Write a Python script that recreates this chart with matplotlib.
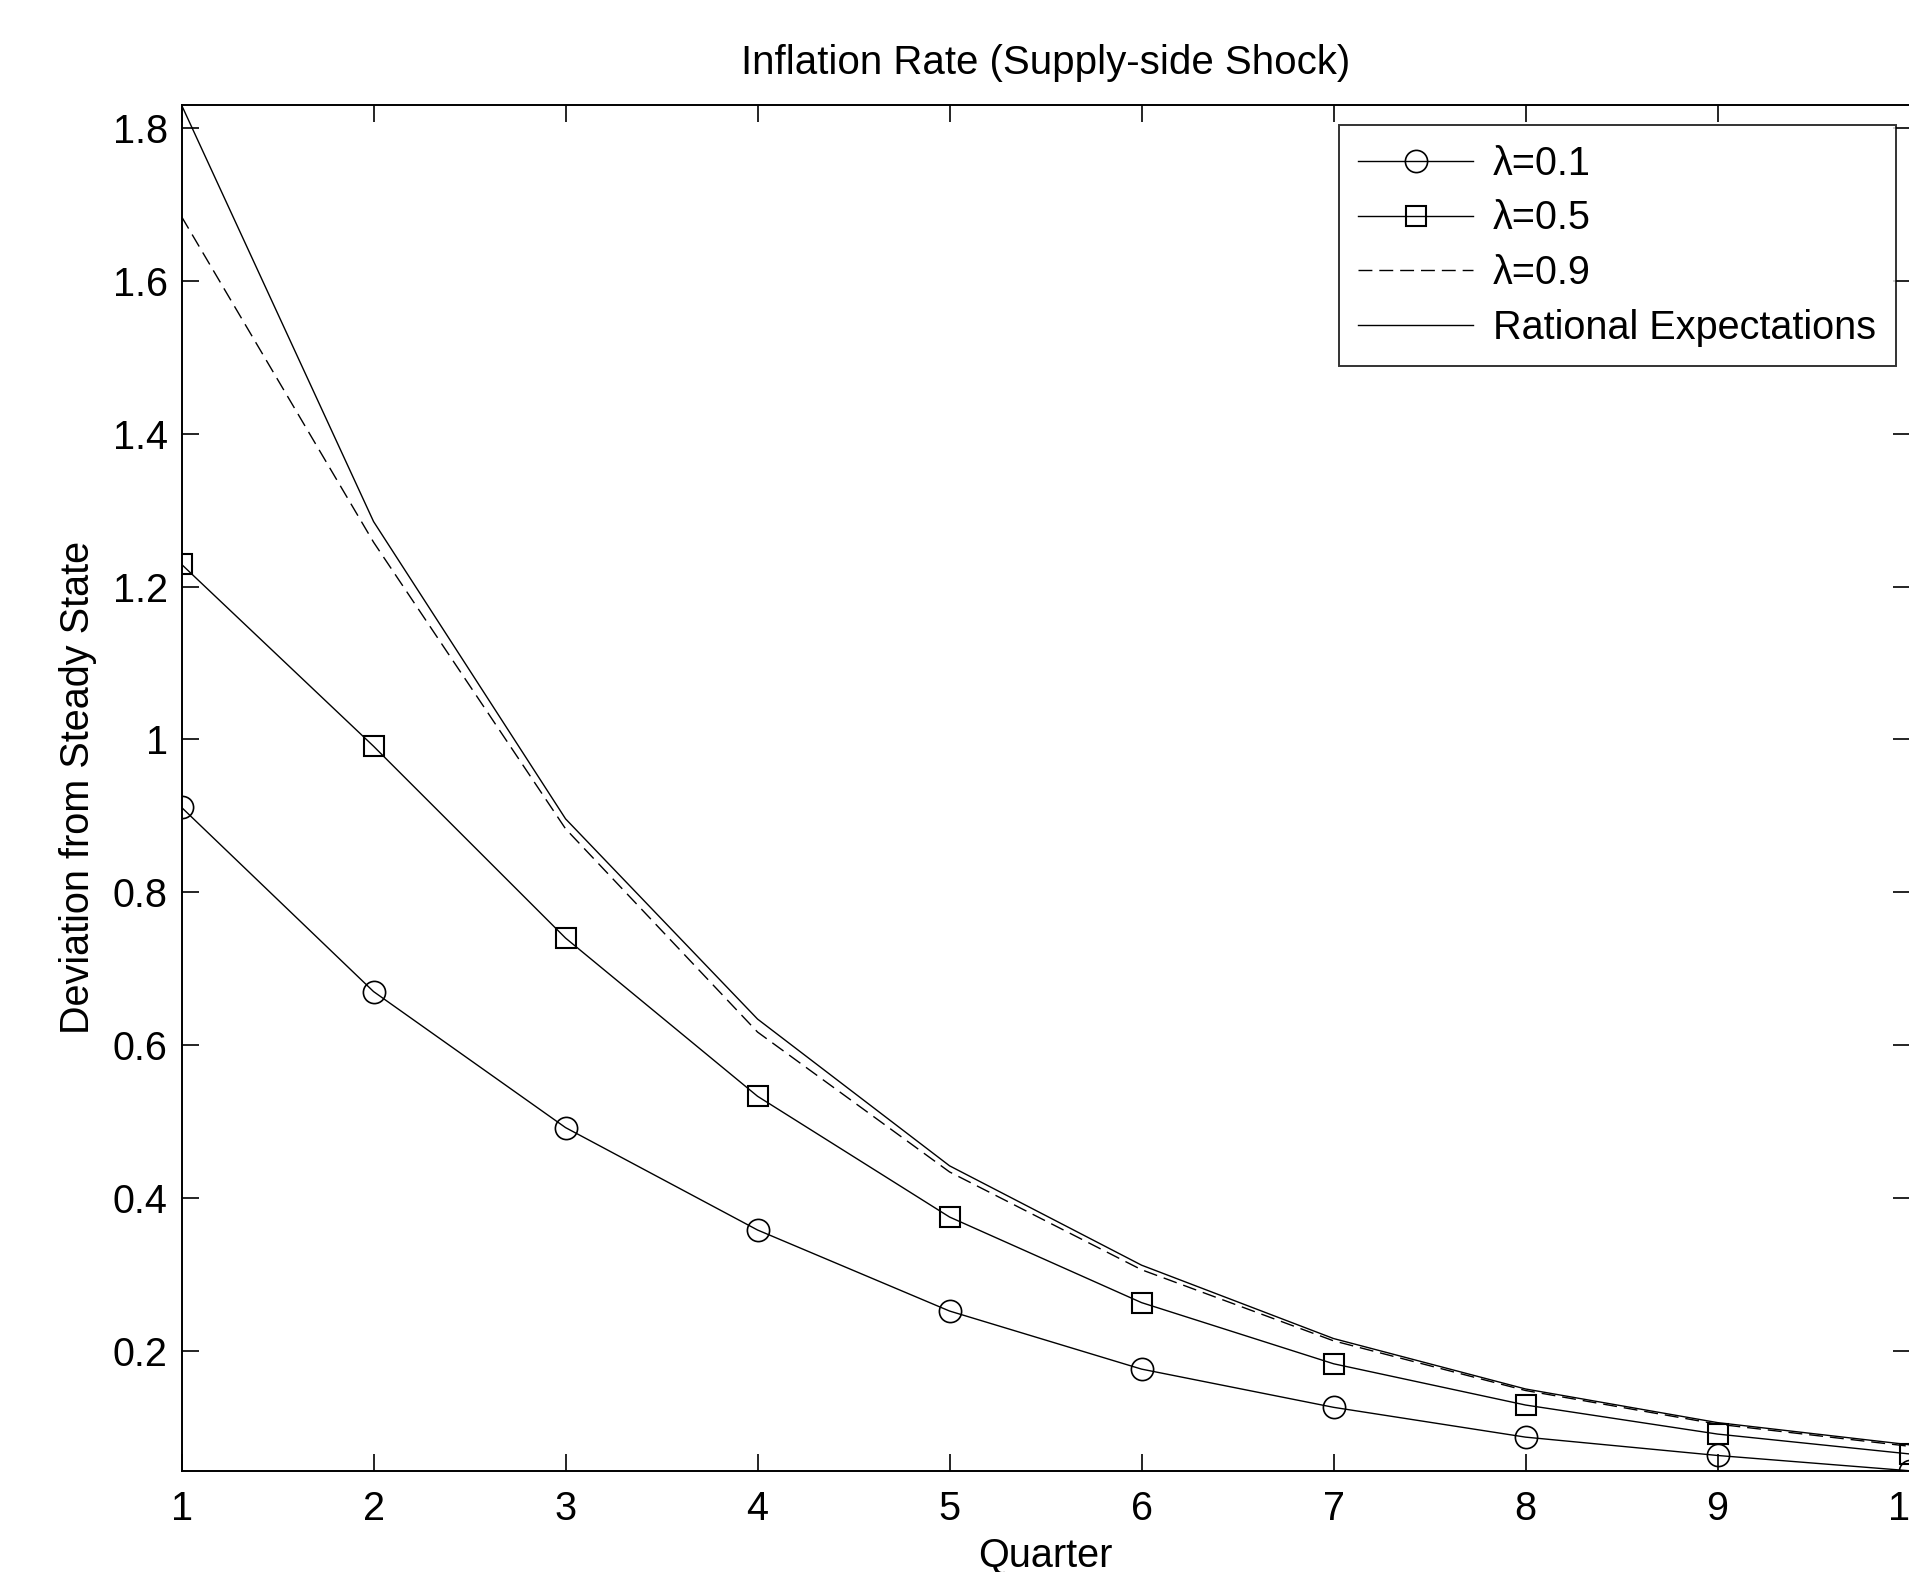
import matplotlib
matplotlib.use("Agg")
import matplotlib.pyplot as plt
import numpy as np

plt.rcParams['font.family'] = ['Liberation Sans', 'DejaVu Sans']

# data
quarters = [1, 2, 3, 4, 5, 6, 7, 8, 9, 10]
lam01 = [0.911, 0.670, 0.492, 0.358, 0.252, 0.176, 0.126, 0.087, 0.063, 0.043]
lam05 = [1.229, 0.991, 0.740, 0.533, 0.375, 0.263, 0.183, 0.129, 0.091, 0.065]
lam09 = [1.684, 1.258, 0.883, 0.617, 0.434, 0.306, 0.213, 0.148, 0.104, 0.075]
rational = [1.830, 1.285, 0.896, 0.634, 0.442, 0.312, 0.216, 0.150, 0.106, 0.077]
labels = ['\u03bb=0.1', '\u03bb=0.5', '\u03bb=0.9', 'Rational Expectations']
yticks = [0.2, 0.4, 0.6, 0.8, 1.0, 1.2, 1.4, 1.6, 1.8]
yticklabels = ['0.2', '0.4', '0.6', '0.8', '1', '1.2', '1.4', '1.6', '1.8']

fs = 28.5

fig = plt.figure(figsize=(19.09, 15.72), dpi=100)
ax = fig.add_axes([0.0951, 0.0644, 0.9052, 0.8688])

ax.plot(quarters, lam01, '-o', color='black', lw=1.0, ms=16, mfc='none', mew=1.2, label=labels[0])
ax.plot(quarters, lam05, '-s', color='black', lw=1.0, ms=14, mfc='none', mew=1.5, label=labels[1])
ax.plot(quarters, lam09, '--', color='black', lw=1.0, dashes=(10, 5), label=labels[2])
ax.plot(quarters, rational, '-', color='black', lw=1.0, label=labels[3])

alldata = np.concatenate([lam01, lam05, lam09, rational])
ax.set_xlim(1, 10)
ax.set_ylim(alldata.min(), alldata.max())
ax.set_xticks(quarters)
ax.set_yticks(yticks)
ax.set_yticklabels(yticklabels)
ax.tick_params(direction='in', length=12, width=1.2, labelsize=fs, top=True, right=True, pad=10)
ax.tick_params(axis='x', pad=14)
for s in ax.spines.values():
    s.set_linewidth(1.4)

ax.set_title('Inflation Rate (Supply-side Shock)', fontsize=29, pad=22)
ax.set_xlabel('Quarter', fontsize=fs, labelpad=6)
ax.set_ylabel('Deviation from Steady State', fontsize=fs, labelpad=11)

leg = ax.legend(loc='upper left', bbox_to_anchor=(0.7012, 0.9205), bbox_transform=fig.transFigure,
                fontsize=fs, frameon=True, fancybox=False, borderaxespad=0, borderpad=0.5,
                handlelength=2.9, handletextpad=0.5, labelspacing=0.42)
leg.get_frame().set_edgecolor('black')
leg.get_frame().set_linewidth(1.4)

fig.savefig('out.png', dpi=100)
